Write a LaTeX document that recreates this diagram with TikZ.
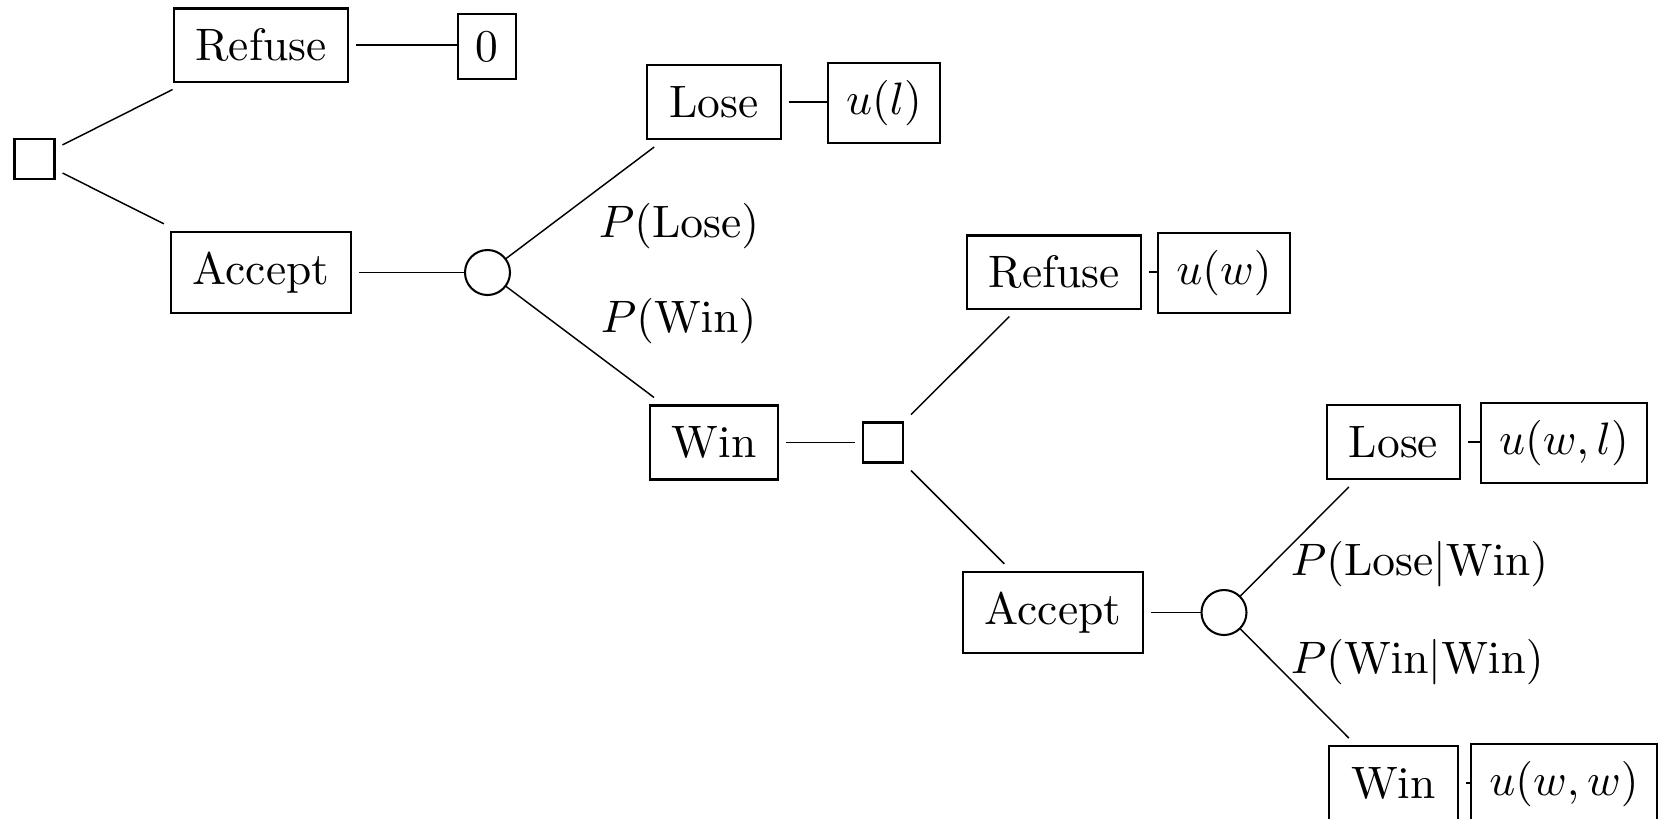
\documentclass[tikz,border=0pt]{standalone}
\begin{document}
\begin{tikzpicture}[x=0.22pt, y=-0.22pt,
  outcome/.style={draw, line width=0.45pt, rectangle, inner xsep=4.84pt, inner ysep=4.4pt,
    minimum height=16.28pt, outer sep=1.76pt},
  payoff/.style={draw, line width=0.45pt, rectangle, inner xsep=3.96pt, inner ysep=3.74pt, outer sep=0pt},
  decision/.style={draw, line width=0.45pt, rectangle, minimum size=8.8pt, inner sep=0pt, outer sep=1.76pt},
  chance/.style={draw, line width=0.45pt, circle, minimum size=9.9pt, inner sep=0pt, outer sep=0pt},
  prob/.style={anchor=base west, inner sep=0pt},
  branch/.style={line width=0.32pt}]

\useasboundingbox (0,0) rectangle (1663,819);

% first decision and its two options
\node[decision] (root) at (34.5,159) {};
\node[outcome, minimum height=0pt] (refuse1) at (261,45) {Refuse};
\node[payoff] (pay0) at (487,46.5) {0};
\node[outcome] (accept1) at (261,272.5) {Accept};

% first gamble
\node[chance] (chance1) at (487.5,272.5) {};
\node[outcome] (lose1) at (714,102) {Lose};
\node[payoff] (payL) at (884,103) {$u(l)$};
\node[outcome] (win1) at (714,442.5) {Win};

% second decision after a win
\node[decision] (dec2) at (883,442.5) {};
\node[outcome, minimum height=0pt] (refuse2) at (1054,272) {Refuse};
\node[payoff] (payW) at (1224,273) {$u(w)$};
\node[outcome] (accept2) at (1053,612.5) {Accept};

% second gamble
\node[chance] (chance2) at (1224,612.5) {};
\node[outcome] (lose2) at (1393.5,442) {Lose};
\node[payoff] (payWL) at (1564,443) {$u(w,l)$};
\node[outcome] (win2) at (1393.5,783) {Win};
\node[payoff] (payWW) at (1564,784) {$u(w,w)$};

% branch probabilities
\node[prob] (pLose) at (598,237) {$P(\mathrm{Lose})$};
\node[prob] (pWin) at (600,332) {$P(\mathrm{Win})$};
\node[prob] (pLoseWin) at (1290,575) {$P(\mathrm{Lose}|\mathrm{Win})$};
\node[prob] (pWinWin) at (1290,673) {$P(\mathrm{Win}|\mathrm{Win})$};

% branches
\draw[branch] (root) -- (refuse1);
\draw[branch] (root) -- (accept1);
\draw[branch] (refuse1.east) -- (pay0.west |- refuse1.east);
\draw[branch] (accept1) -- (chance1);
\draw[branch] (chance1) -- (lose1);
\draw[branch] (chance1) -- (win1);
\draw[branch] (lose1.east) -- (payL.west |- lose1.east);
\draw[branch] (win1) -- (dec2);
\draw[branch] (dec2) -- (refuse2);
\draw[branch] (dec2) -- (accept2);
\draw[branch] (refuse2.east) -- (payW.west |- refuse2.east);
\draw[branch] (accept2) -- (chance2);
\draw[branch] (chance2) -- (lose2);
\draw[branch] (chance2) -- (win2);
\draw[branch] (lose2.east) -- (payWL.west |- lose2.east);
\draw[branch] (win2.east) -- (payWW.west |- win2.east);
\end{tikzpicture}
\end{document}
